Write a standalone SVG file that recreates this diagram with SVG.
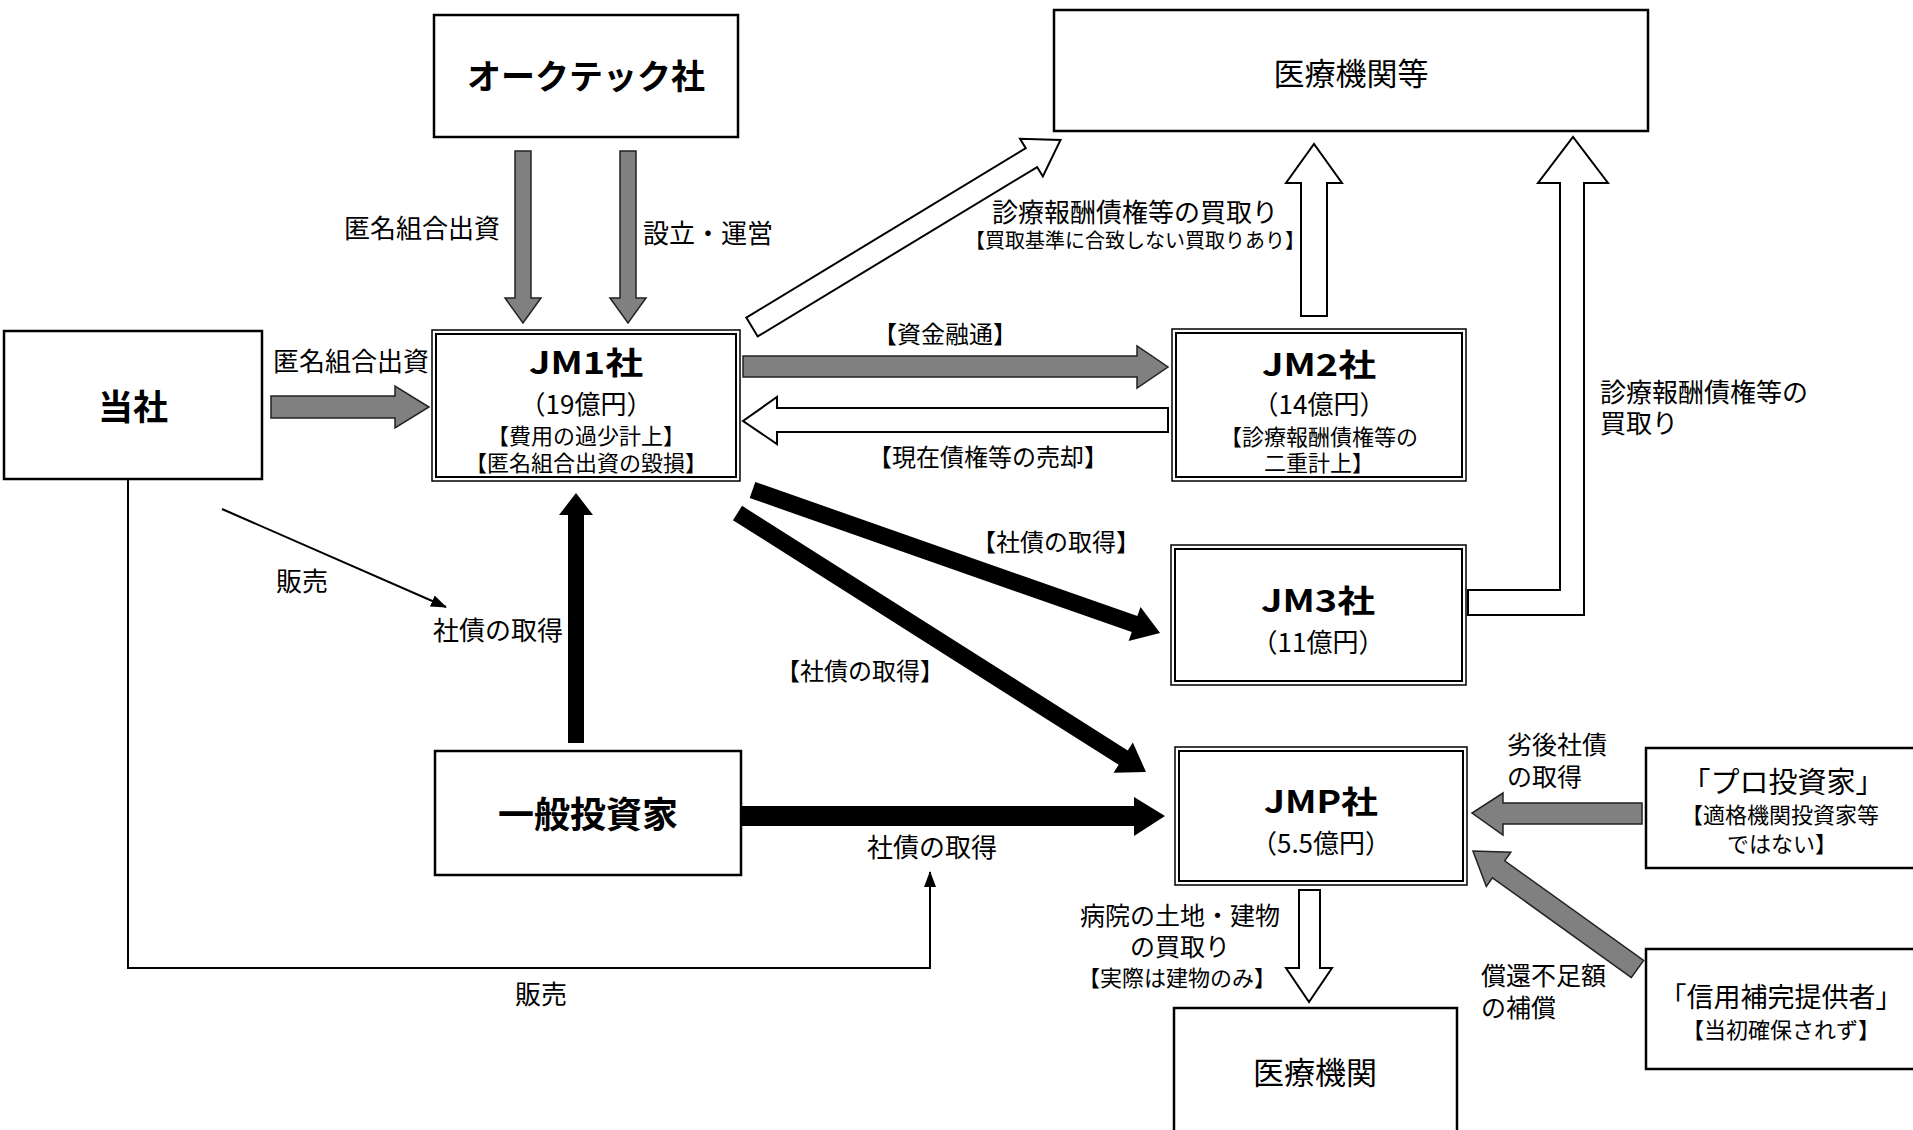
<svg xmlns="http://www.w3.org/2000/svg" width="1913" height="1130" viewBox="0 0 1913 1130">
<style>
text { font-family: "Noto Sans CJK JP", "Noto Sans", sans-serif; fill: #000; dominant-baseline: central; }
.m { text-anchor: middle; }
.b { font-weight: bold; }
.f26 { font-size: 26px; }
.f25 { font-size: 25px; }
.f24 { font-size: 24px; }
.f22 { font-size: 22px; }
.f20 { font-size: 20px; }
.box { fill: #fff; stroke: #000; stroke-width: 2.5; }
.dbo { fill: #fff; stroke: #000; stroke-width: 1.5; }
.dbi { fill: none; stroke: #000; stroke-width: 2; }
.gray { fill: #808080; stroke: #222; stroke-width: 1.5; stroke-linejoin: miter; }
.white { fill: #fff; stroke: #000; stroke-width: 2; }
.black { fill: #000; stroke: none; }
.thin { fill: none; stroke: #000; stroke-width: 2; }
</style>
<defs>
<marker id="ah" viewBox="0 0 16 12" refX="15" refY="6" markerWidth="16" markerHeight="12" markerUnits="userSpaceOnUse" orient="auto">
<path d="M0,0 L16,6 L0,12 Z" fill="#000"/>
</marker>
</defs>
<rect width="1913" height="1130" fill="#fff"/>

<g id="connectors">
<polygon class="gray" points="515,151 531,151 531,298 541,298 523,323 505,298 515,298"/>
<polygon class="gray" points="620,151 636,151 636,298 646,298 628,323 610,298 620,298"/>
<polygon class="gray" points="271,396 395,396 395,386 429,407 395,428 395,418 271,418"/>
<polygon class="gray" points="743,356 1137,356 1137,346 1168,367 1137,388 1137,377 743,377"/>
<polygon class="white" points="1168,408 777,408 777,397 743,421 777,444 777,432 1168,432"/>
<polygon class="white" transform="translate(752,327) rotate(-31.22)" points="0,-11 326.75,-11 326.75,-22 360.75,0 326.75,22 326.75,11 0,11"/>
<polygon class="white" points="1301,316 1301,183 1286,183 1314,144 1342,183 1327,183 1327,316"/>
<polygon class="white" points="1468,590 1560,590 1560,183 1538,183 1573,137 1608,183 1584,183 1584,615 1468,615"/>
<polygon class="black" points="568,743 568,515 559,515 576,493 593,515 584,515 584,743"/>
<polygon class="black" points="742,806 1134,806 1134,797 1165,816 1134,836 1134,826 742,826"/>
<polygon class="black" transform="translate(752.5,490) rotate(19.33)" points="0,-8.5 404.9,-8.5 404.9,-18 431.9,0 404.9,18 404.9,8.5 0,8.5"/>
<polygon class="black" transform="translate(737.5,513) rotate(32.38)" points="0,-8.5 456.7,-8.5 456.7,-18 483.7,0 456.7,18 456.7,8.5 0,8.5"/>
<polygon class="gray" points="1642,803 1503,803 1503,793 1472,813 1503,835 1503,824 1642,824"/>
<polygon class="gray" transform="translate(1637.5,969) rotate(-144.35)" points="0,-10.5 171,-10.5 171,-21 202.5,0 171,21 171,10.5 0,10.5"/>
<polygon class="white" points="1299,890 1320,890 1320,968 1332,968 1309,1002 1286,968 1299,968"/>
<line class="thin" x1="222" y1="509" x2="446" y2="607" marker-end="url(#ah)"/>
<polyline class="thin" points="128,479 128,968 930,968 930,872" marker-end="url(#ah)"/>
</g>

<g id="node-oaktech">
<rect class="box" x="434" y="15" width="304" height="122"/>
<text class="m b" x="586" y="74" font-size="34">オークテック社</text>
</g>
<g id="node-iryokikanto">
<rect class="box" x="1054" y="10" width="594" height="121"/>
<text class="m" x="1351" y="71" font-size="31">医療機関等</text>
</g>
<g id="node-tosha">
<rect class="box" x="4" y="331" width="258" height="148"/>
<text class="m b" x="133" y="404" font-size="35">当社</text>
</g>
<g id="node-jm1">
<rect class="dbo" x="432" y="330" width="308" height="151"/>
<rect class="dbi" x="436" y="334" width="300" height="143"/>
<text class="m b" x="586" y="360" font-size="31" textLength="114" lengthAdjust="spacingAndGlyphs">JM1社</text>
<text class="m" x="586" y="402" font-size="26">（19億円）</text>
<text class="m f22" x="586" y="434">【費用の過少計上】</text>
<text class="m f22" x="586" y="461">【匿名組合出資の毀損】</text>
</g>
<g id="node-jm2">
<rect class="dbo" x="1172" y="329" width="294" height="152"/>
<rect class="dbi" x="1176" y="333" width="286" height="144"/>
<text class="m b" x="1319" y="362" font-size="31" textLength="114" lengthAdjust="spacingAndGlyphs">JM2社</text>
<text class="m" x="1319" y="402" font-size="26">（14億円）</text>
<text class="m f22" x="1319" y="435">【診療報酬債権等の</text>
<text class="m f22" x="1319" y="461">二重計上】</text>
</g>
<g id="node-jm3">
<rect class="dbo" x="1171" y="545" width="295" height="140"/>
<rect class="dbi" x="1175" y="549" width="287" height="132"/>
<text class="m b" x="1318" y="598" font-size="31" textLength="114" lengthAdjust="spacingAndGlyphs">JM3社</text>
<text class="m" x="1318" y="640" font-size="26">（11億円）</text>
</g>
<g id="node-jmp">
<rect class="dbo" x="1175" y="747" width="292" height="138"/>
<rect class="dbi" x="1179" y="751" width="284" height="130"/>
<text class="m b" x="1321" y="799" font-size="31" textLength="114" lengthAdjust="spacingAndGlyphs">JMP社</text>
<text class="m" x="1321" y="841" font-size="26">（5.5億円）</text>
</g>
<g id="node-ippan">
<rect class="box" x="435" y="751" width="306" height="124"/>
<text class="m b" x="588" y="812" font-size="36">一般投資家</text>
</g>
<g id="node-iryokikan">
<rect class="box" x="1174" y="1008" width="283" height="124"/>
<text class="m" x="1315" y="1070" font-size="31">医療機関</text>
</g>
<g id="node-pro">
<rect class="box" x="1646" y="748" width="276" height="120"/>
<text class="m" x="1783" y="780" font-size="29">「プロ投資家」</text>
<text class="m f22" x="1780" y="813">【適格機関投資家等</text>
<text class="m f22" x="1782" y="842">ではない】</text>
</g>
<g id="node-shinyo">
<rect class="box" x="1646" y="949" width="276" height="120"/>
<text class="m" x="1781" y="995" font-size="27">「信用補完提供者」</text>
<text class="m" x="1781" y="1028" font-size="22">【当初確保されず】</text>
</g>

<g id="labels">
<text class="m f26" x="422" y="226">匿名組合出資</text>
<text class="m f26" x="708" y="231">設立・運営</text>
<text class="m f26" x="351" y="359">匿名組合出資</text>
<text class="m f24" x="945" y="332">【資金融通】</text>
<text class="m f24" x="988" y="455">【現在債権等の売却】</text>
<text class="m f26" x="1135" y="210">診療報酬債権等の買取り</text>
<text class="m f20" x="1135" y="239">【買取基準に合致しない買取りあり】</text>
<text class="f26" x="1600" y="390">診療報酬債権等の</text>
<text class="f26" x="1600" y="421">買取り</text>
<text class="m f24" x="1056" y="540">【社債の取得】</text>
<text class="m f24" x="860" y="669">【社債の取得】</text>
<text class="m f26" x="302" y="579">販売</text>
<text class="m f26" x="498" y="628">社債の取得</text>
<text class="m f26" x="932" y="845">社債の取得</text>
<text class="m f26" x="541" y="992">販売</text>
<text class="f25" x="1507" y="743">劣後社債</text>
<text class="f25" x="1507" y="775">の取得</text>
<text class="f25" x="1481" y="974">償還不足額</text>
<text class="f25" x="1481" y="1006">の補償</text>
<text class="m f25" x="1180" y="914">病院の土地・建物</text>
<text class="m f25" x="1180" y="945">の買取り</text>
<text class="m f22" x="1177" y="976">【実際は建物のみ】</text>
</g>
</svg>
